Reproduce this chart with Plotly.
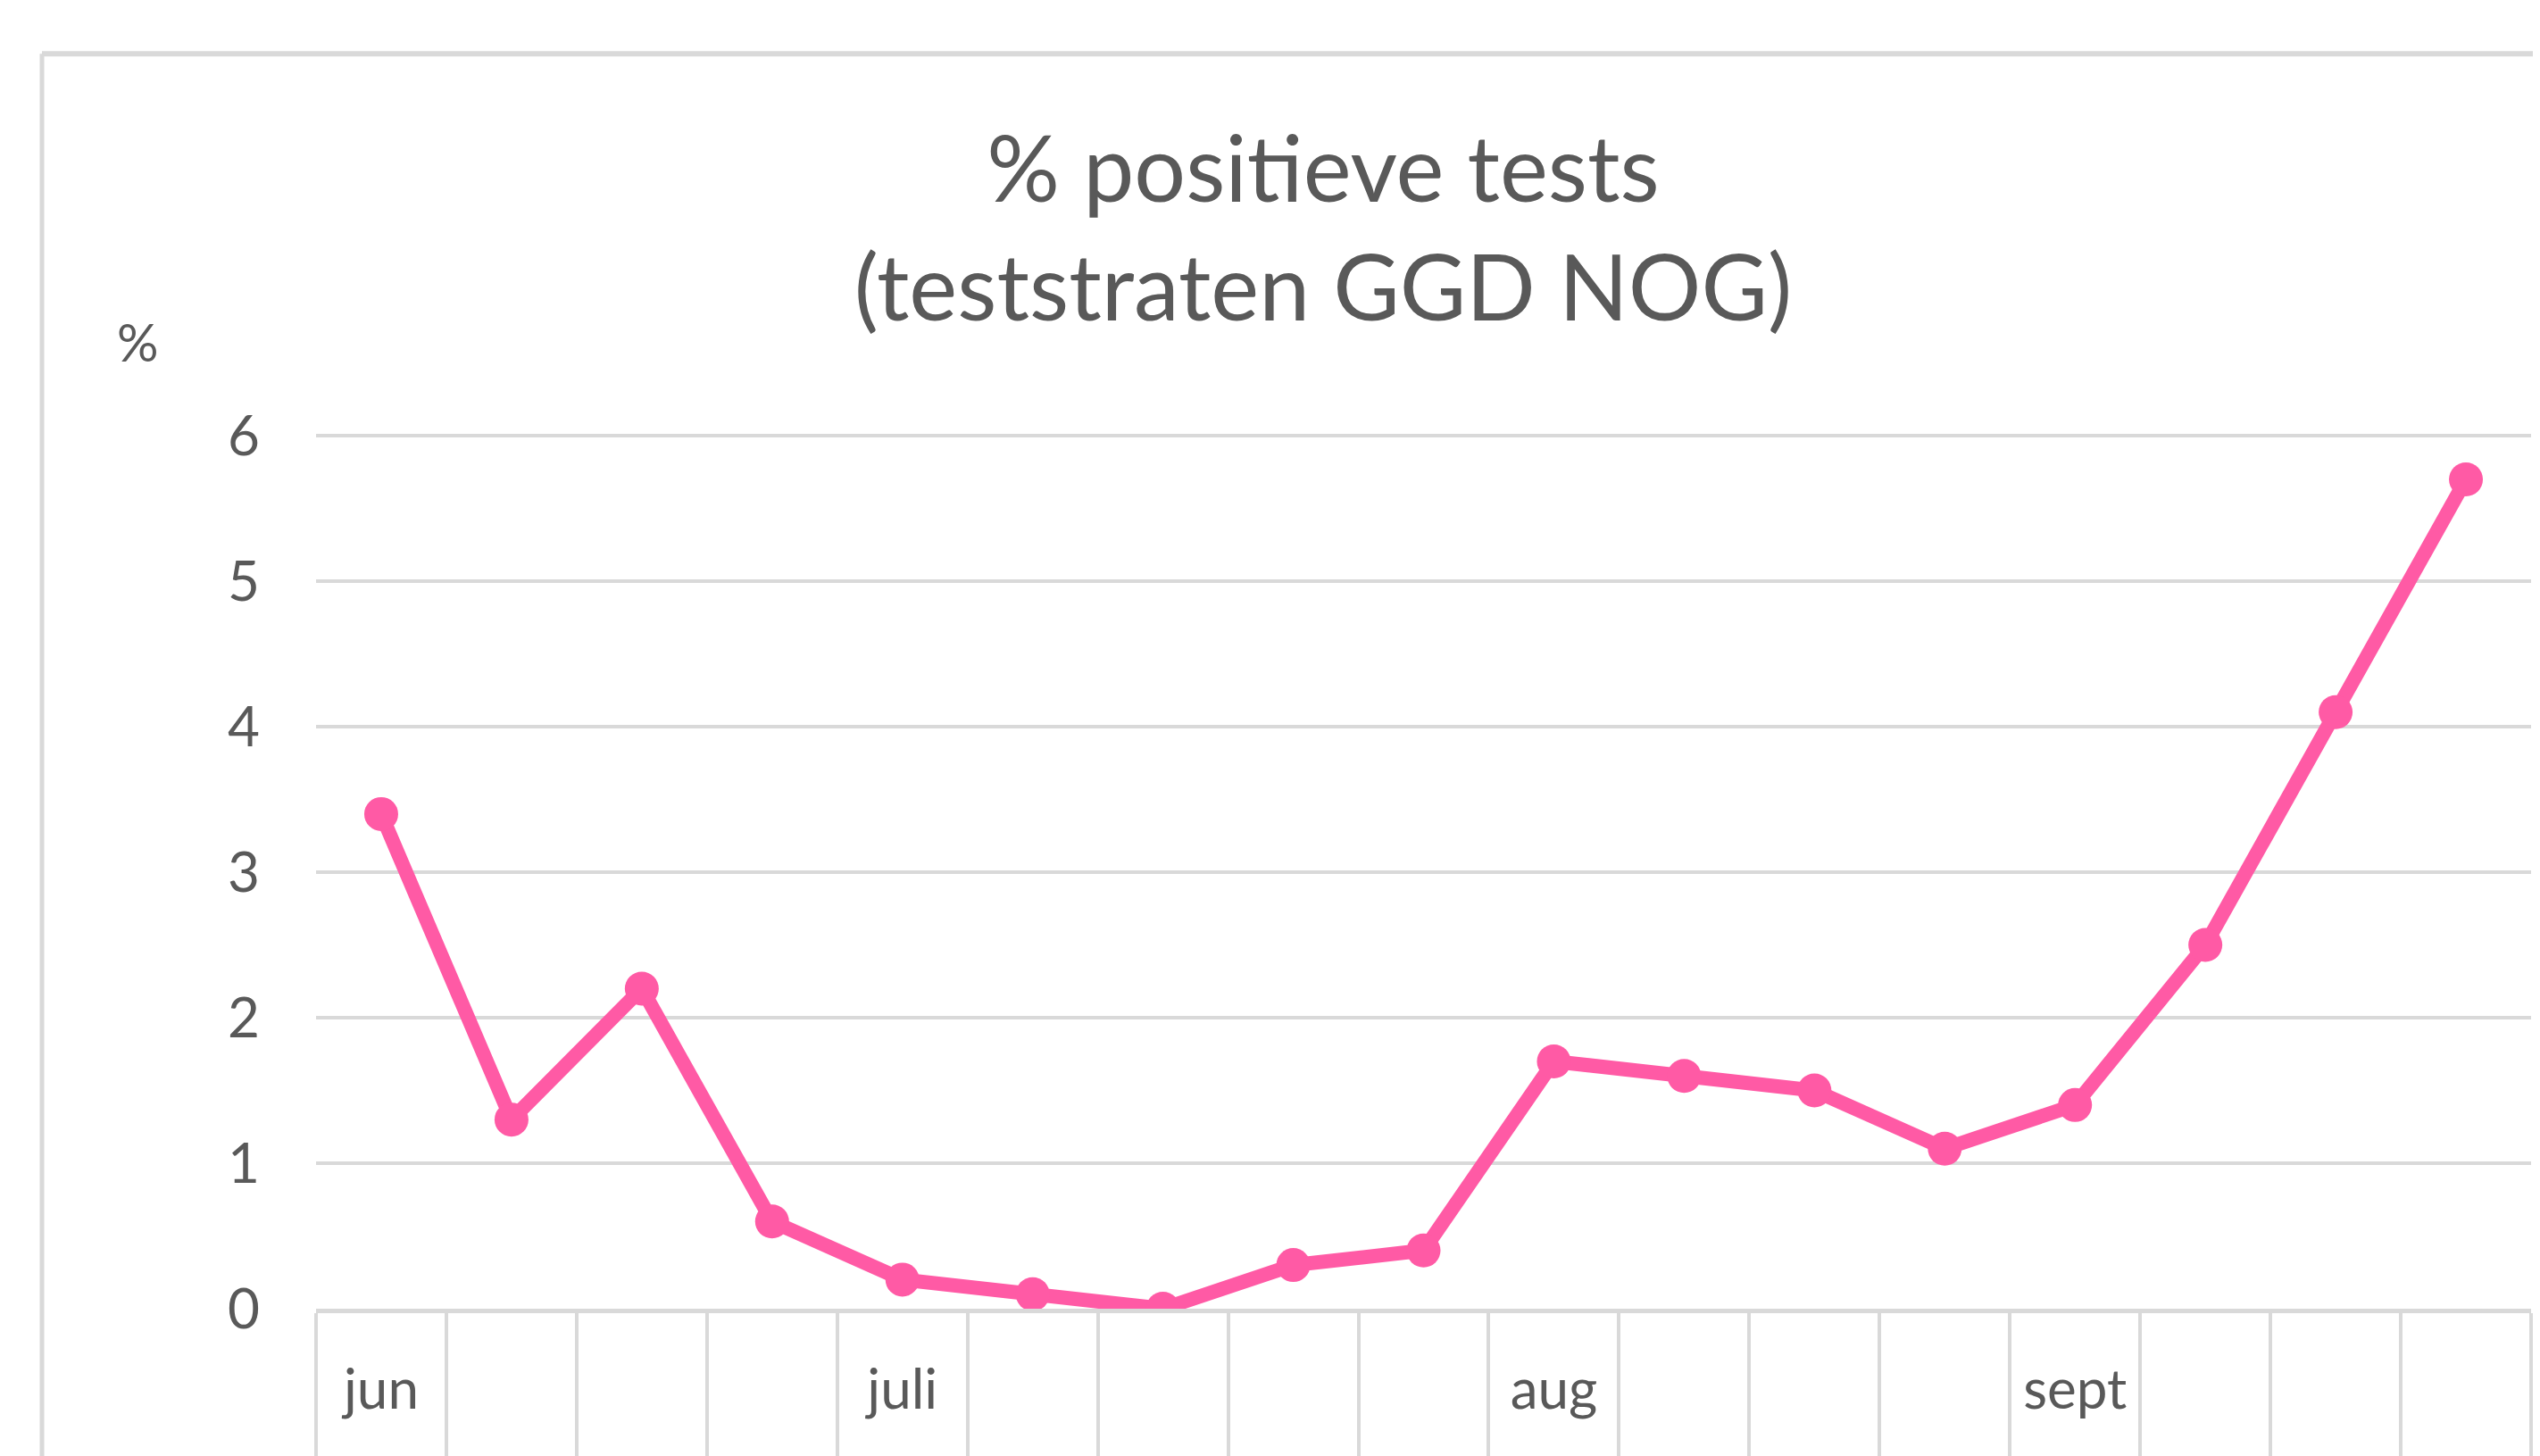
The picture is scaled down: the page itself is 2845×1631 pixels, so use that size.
import plotly.graph_objects as go

# Categories: 17 weekly observations (weeks 23..39)
weeks = ["wk23", "wk24", "wk25", "wk26", "wk27", "wk28", "wk29", "wk30", "wk31",
         "wk32", "wk33", "wk34", "wk35", "wk36", "wk37", "wk38", "wk39"]
month_labels = ["jun", "", "", "", "juli", "", "", "", "",
                "aug", "", "", "", "sept", "", "", ""]
pct_positive = [3.4, 1.3, 2.2, 0.6, 0.2, 0.1, 0.0, 0.3, 0.4,
                1.7, 1.6, 1.5, 1.1, 1.4, 2.5, 4.1, 5.7]
y_ticks = [0, 1, 2, 3, 4, 5, 6]

W, H = 2845, 1631
OFF = 8  # page body margin offset
Y_TOP = 6.05
unit = 980 / 6
PL = 354 - OFF
PR = 10 + OFF
PB = 163
PT = int(round(488 - OFF - (Y_TOP - 6) * unit))
plot_w = W - PL - PR
plot_h = H - PT - PB
GRID = "#d9d9d9"
TXT = "#595959"
FONT = "Lato"


def px_x(sx):
    return (sx - OFF - PL) / plot_w


def px_y(sy):
    return (H - PB - (sy - OFF)) / plot_h


fig = go.Figure()
fig.add_trace(go.Scatter(
    x=weeks, y=pct_positive, mode="lines+markers",
    line=dict(color="#FF5AA5", width=16),
    marker=dict(color="#FF5AA5", size=38, symbol="circle"),
    showlegend=False, hoverinfo="x+y",
))

fig.update_layout(
    width=W, height=H,
    margin=dict(l=PL, r=PR, t=PT, b=PB, pad=0),
    paper_bgcolor="white", plot_bgcolor="white",
    font=dict(family=FONT, color=TXT),
    title=dict(
        text="% positieve tests<br>(teststraten GGD NOG)",
        font=dict(family=FONT, size=102, color=TXT),
        xref="container", yref="container",
        x=(1482 - OFF) / W, y=1 - 218 / H, xanchor="center", yanchor="middle",
    ),
    xaxis=dict(
        type="category",
        categoryorder="array", categoryarray=weeks,
        tickmode="array", tickvals=weeks, ticktext=month_labels,
        tickson="boundaries",
        ticks="outside", ticklen=PB - 2, tickwidth=4, tickcolor=GRID,
        showline=True, linecolor=GRID, linewidth=5,
        showgrid=False, zeroline=False,
        tickfont=dict(family=FONT, size=62, color=TXT),
        ticklabelstandoff=33,
        range=[-0.5, len(weeks) - 0.5],
        fixedrange=True,
    ),
    yaxis=dict(
        range=[0, Y_TOP],
        tickmode="array", tickvals=y_ticks,
        ticks="", showline=False, zeroline=False,
        showgrid=True, gridcolor=GRID, gridwidth=4,
        tickfont=dict(family=FONT, size=62, color=TXT),
        ticklabelstandoff=62,
        fixedrange=True,
    ),
    annotations=[dict(
        text="%", xref="paper", yref="paper",
        x=px_x(154), y=px_y(382),
        xanchor="center", yanchor="middle", showarrow=False,
        font=dict(family=FONT, size=58, color=TXT),
    )],
    shapes=[
        dict(type="line", xref="paper", yref="paper",
             x0=px_x(47), x1=1.2, y0=px_y(56), y1=px_y(56),
             line=dict(color=GRID, width=6), layer="below"),
        dict(type="line", xref="paper", yref="paper",
             x0=px_x(47), x1=px_x(47), y0=px_y(56), y1=-0.3,
             line=dict(color=GRID, width=5), layer="below"),
    ],
)

fig.write_html("out.html")
